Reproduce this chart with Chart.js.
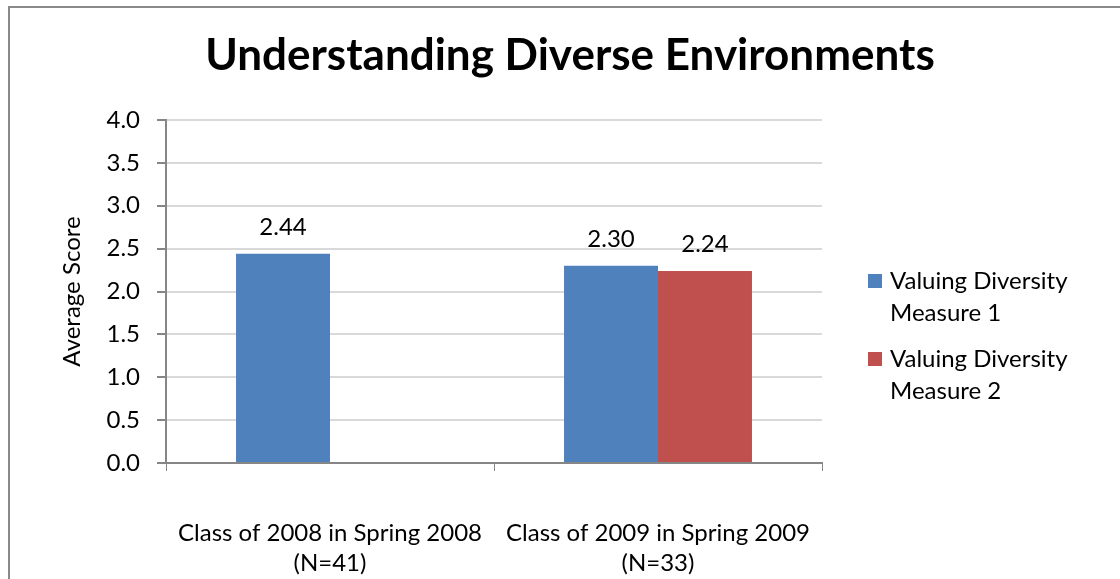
<!DOCTYPE html>
<html>
<head>
<meta charset="utf-8">
<script src="https://cdn.jsdelivr.net/npm/chart.js@4"></script>
<style>
  body { margin: 0; background: #fff; overflow: hidden; }
  #wrap { position: relative; width: 1120px; height: 579px; }
  #frame { position: absolute; left: 8px; top: 6px; width: 1200px; height: 700px;
           border-left: 2px solid #8a8a8a; border-top: 2px solid #8a8a8a; }
  #mychart { position: absolute; left: 0; top: 0; }
</style>
</head>
<body>
<div id="wrap">
  <div id="frame"></div>
  <canvas id="mychart" width="1120" height="579"></canvas>
</div>
<script>
// Dữ liệu
const chartTitle = "Understanding Diverse Environments";
const categories = [
  ["Class of 2008 in Spring 2008", "(N=41)"],
  ["Class of 2009 in Spring 2009", "(N=33)"],
];
const seriesNames = [
  ["Valuing Diversity", "Measure 1"],
  ["Valuing Diversity", "Measure 2"],
];
const measure1 = [2.44, 2.30];
const measure2 = [null, 2.24];
const yTicks = [0, 0.5, 1, 1.5, 2, 2.5, 3, 3.5, 4];
const yTitle = "Average Score";

const FONT = "Lato, 'Open Sans', sans-serif";
const colors = ["#4F81BD", "#C0504D"];

// Tiêu đề + chú thích + nhãn giá trị
const extras = {
  id: "extras",
  afterDatasetsDraw(chart) {
    const c = chart.ctx;
    c.save();
    c.fillStyle = "#000";
    c.font = "24px " + FONT;
    c.textAlign = "center";
    c.textBaseline = "alphabetic";
    chart.data.datasets.forEach((ds, i) => {
      const meta = chart.getDatasetMeta(i);
      meta.data.forEach((bar, j) => {
        const v = ds.data[j];
        if (v == null) return;
        c.fillText(v.toFixed(2), bar.x, bar.y - 19);
      });
    });
    c.restore();
  },
  afterDraw(chart) {
    const c = chart.ctx;
    c.save();
    // tiêu đề
    c.fillStyle = "#000";
    c.font = "bold 44px " + FONT;
    c.textAlign = "center";
    c.textBaseline = "alphabetic";
    c.fillText(chartTitle, 570, 70);
    // chú thích
    c.font = "24px " + FONT;
    c.textAlign = "left";
    c.textBaseline = "middle";
    const rows = [281, 359];
    seriesNames.forEach((lines, i) => {
      c.fillStyle = colors[i];
      c.fillRect(868, rows[i] - 7, 14, 14);
      c.fillStyle = "#000";
      lines.forEach((t, k) => c.fillText(t, 890, rows[i] + k * 32));
    });
    c.restore();
  },
};

const ctx = document.getElementById("mychart").getContext("2d");
const mychart = new Chart(ctx, {
  type: "bar",
  data: {
    labels: categories,
    datasets: [
      { label: seriesNames[0].join(" "), data: measure1, backgroundColor: colors[0] },
      { label: seriesNames[1].join(" "), data: measure2, backgroundColor: colors[1] },
    ],
  },
  options: {
    responsive: false,
    animation: false,
    categoryPercentage: 0.573,
    barPercentage: 1.0,
    layout: { padding: { left: 0, top: 120, right: 298, bottom: 0 } },
    plugins: {
      legend: { display: false },
      title: { display: false },
      tooltip: { enabled: false },
    },
    scales: {
      x: {
        afterFit: (s) => { s.height = 116; },
        grid: { offset: true, drawOnChartArea: false, color: "#868686", tickLength: 8 },
        border: { color: "#868686", width: 2 },
        ticks: {
          color: "#000",
          font: { family: FONT, size: 24, lineHeight: 1.25 },
          padding: 47,
          maxRotation: 0,
          autoSkip: false,
        },
      },
      y: {
        min: 0,
        max: 4,
        afterFit: (s) => { s.width = 166; },
        afterBuildTicks: (s) => { s.ticks = yTicks.map((v) => ({ value: v })); },
        grid: { color: "#d9d9d9", tickColor: "#868686", tickLength: 9, lineWidth: 2 },
        border: { color: "#868686", width: 2 },
        ticks: {
          color: "#000",
          font: { family: FONT, size: 24 },
          padding: 17,
          callback: (v) => Number(v).toFixed(1),
        },
        title: {
          display: true,
          text: yTitle,
          color: "#000",
          font: { family: FONT, size: 24 },
          padding: { top: 58, bottom: 0 },
        },
      },
    },
  },
  plugins: [extras],
});
</script>
</body>
</html>
